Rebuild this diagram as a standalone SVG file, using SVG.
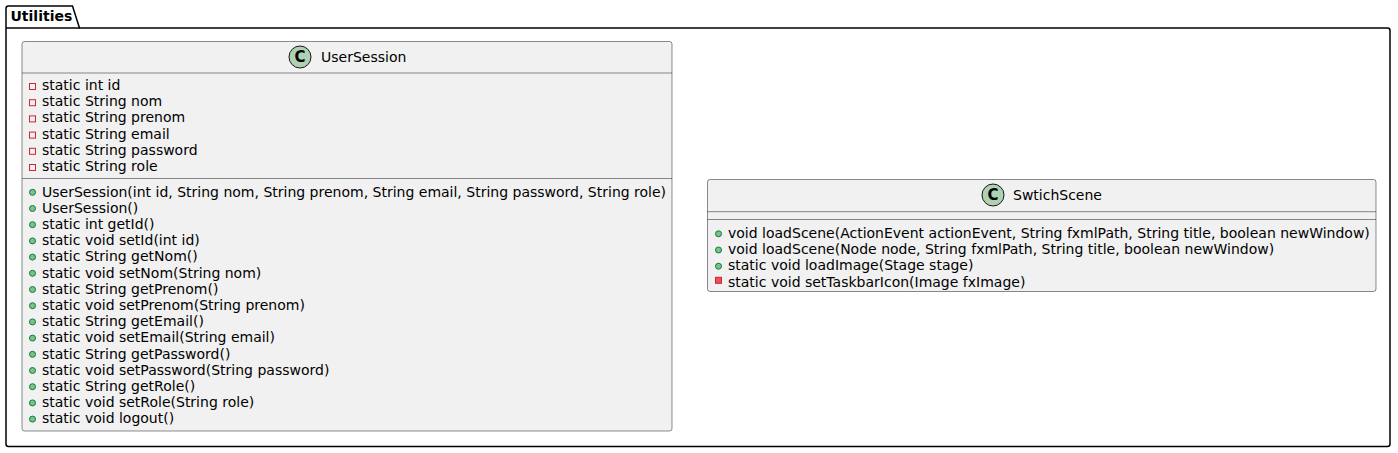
<svg xmlns="http://www.w3.org/2000/svg" width="1398" height="453" viewBox="0 0 1398 453">
<style>
text{font-family:"DejaVu Sans","Verdana",sans-serif;font-size:14px;fill:#000}
.pkg{fill:none;stroke:#000;stroke-width:1.5}
.box{fill:#F1F1F1;stroke:#181818;stroke-width:0.5}
.sep{stroke:#181818;stroke-width:0.5}
.ci{fill:#ADD1B2;stroke:#181818;stroke-width:1}
.ct{font-weight:bold;font-size:15px}
.pub{fill:#84BE84;stroke:#038048;stroke-width:1}
.prf{fill:none;stroke:#C82930;stroke-width:1}
.prm{fill:#F24D5C;stroke:#C82930;stroke-width:1}
</style>
<g id="Utilities">
<path class="pkg" d="M6,8.5 A2.5,2.5 0 0 1 8.5,6 L72.5,6 L79.5,28 L1387.5,28 A2.5,2.5 0 0 1 1390,30.5 L1390,444 A2.5,2.5 0 0 1 1387.5,446.5 L8.5,446.5 A2.5,2.5 0 0 1 6,444 Z"/>
<line class="pkg" x1="6" y1="28" x2="79.5" y2="28"/>
<text x="10.5" y="21" font-weight="bold">Utilities</text>
</g>
<g id="UserSession">
<rect class="box" x="22" y="41.5" width="650" height="389.5" rx="2.5"/>
<line class="sep" x1="22" y1="73" x2="672" y2="73"/>
<line class="sep" x1="22" y1="178.5" x2="672" y2="178.5"/>
<circle class="ci" cx="300" cy="57" r="11"/>
<text class="ct" x="300" y="62.3" text-anchor="middle">C</text>
<text x="321" y="62">UserSession</text>
<rect class="prf" x="29.5" y="83.5" width="6" height="6"/><text x="42" y="90">static int id</text>
<rect class="prf" x="29.5" y="99.7" width="6" height="6"/><text x="42" y="106.2">static String nom</text>
<rect class="prf" x="29.5" y="115.9" width="6" height="6"/><text x="42" y="122.4">static String prenom</text>
<rect class="prf" x="29.5" y="132.1" width="6" height="6"/><text x="42" y="138.6">static String email</text>
<rect class="prf" x="29.5" y="148.3" width="6" height="6"/><text x="42" y="154.8">static String password</text>
<rect class="prf" x="29.5" y="164.5" width="6" height="6"/><text x="42" y="171">static String role</text>
<circle class="pub" cx="32.5" cy="192.3" r="3"/><text x="42" y="196.5">UserSession(int id, String nom, String prenom, String email, String password, String role)</text>
<circle class="pub" cx="32.5" cy="208.5" r="3"/><text x="42" y="212.7">UserSession()</text>
<circle class="pub" cx="32.5" cy="224.7" r="3"/><text x="42" y="228.9">static int getId()</text>
<circle class="pub" cx="32.5" cy="240.9" r="3"/><text x="42" y="245.1">static void setId(int id)</text>
<circle class="pub" cx="32.5" cy="257.1" r="3"/><text x="42" y="261.3">static String getNom()</text>
<circle class="pub" cx="32.5" cy="273.3" r="3"/><text x="42" y="277.5">static void setNom(String nom)</text>
<circle class="pub" cx="32.5" cy="289.5" r="3"/><text x="42" y="293.7">static String getPrenom()</text>
<circle class="pub" cx="32.5" cy="305.7" r="3"/><text x="42" y="309.9">static void setPrenom(String prenom)</text>
<circle class="pub" cx="32.5" cy="321.9" r="3"/><text x="42" y="326.1">static String getEmail()</text>
<circle class="pub" cx="32.5" cy="338.1" r="3"/><text x="42" y="342.3">static void setEmail(String email)</text>
<circle class="pub" cx="32.5" cy="354.3" r="3"/><text x="42" y="358.5">static String getPassword()</text>
<circle class="pub" cx="32.5" cy="370.5" r="3"/><text x="42" y="374.7">static void setPassword(String password)</text>
<circle class="pub" cx="32.5" cy="386.7" r="3"/><text x="42" y="390.9">static String getRole()</text>
<circle class="pub" cx="32.5" cy="402.9" r="3"/><text x="42" y="407.1">static void setRole(String role)</text>
<circle class="pub" cx="32.5" cy="419.1" r="3"/><text x="42" y="423.3">static void logout()</text>
</g>
<g id="SwtichScene">
<rect class="box" x="707.5" y="179.5" width="668.5" height="112" rx="2.5"/>
<line class="sep" x1="707.5" y1="211.7" x2="1376" y2="211.7"/>
<line class="sep" x1="707.5" y1="219.5" x2="1376" y2="219.5"/>
<circle class="ci" cx="993" cy="195" r="11"/>
<text class="ct" x="993" y="200.3" text-anchor="middle">C</text>
<text x="1013" y="200">SwtichScene</text>
<circle class="pub" cx="718.5" cy="233.8" r="3"/><text x="728" y="238">void loadScene(ActionEvent actionEvent, String fxmlPath, String title, boolean newWindow)</text>
<circle class="pub" cx="718.5" cy="250" r="3"/><text x="728" y="254.2">void loadScene(Node node, String fxmlPath, String title, boolean newWindow)</text>
<circle class="pub" cx="718.5" cy="266.2" r="3"/><text x="728" y="270.4">static void loadImage(Stage stage)</text>
<rect class="prm" x="715.5" y="277.3" width="6" height="6"/><text x="728" y="286.6">static void setTaskbarIcon(Image fxImage)</text>
</g>
<g id="connectors"/>
</svg>
